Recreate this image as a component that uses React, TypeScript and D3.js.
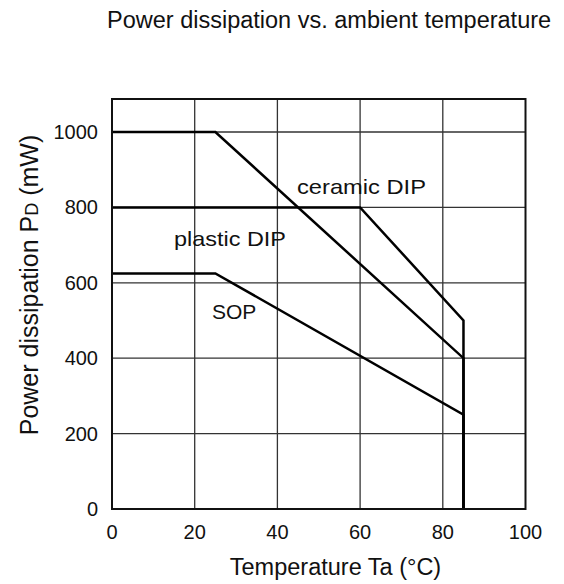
import * as d3 from "d3";

// axis ticks
const tempTicks = [0, 20, 40, 60, 80, 100];
const powerTicks = [0, 200, 400, 600, 800, 1000];

// derating curves (Ta in °C, PD in mW)
const plasticTemp = [0, 25, 85, 85];
const plasticPower = [1000, 1000, 400, 0];
const ceramicTemp = [0, 60, 85, 85];
const ceramicPower = [800, 800, 500, 0];
const sopTemp = [0, 25, 85, 85];
const sopPower = [625, 625, 250, 0];

const seriesNames = ["plastic DIP", "ceramic DIP", "SOP"];

const font = "'Liberation Sans', Arial, Helvetica, sans-serif";

export default function App() {
  const width = 564;
  const height = 584;
  const left = 112;
  const right = 525.5;
  const top = 99;
  const bottom = 509;

  const x = d3.scaleLinear().domain([0, 100]).range([left, right]);
  const y = d3.scaleLinear().domain([0, 1000]).range([bottom, 132]);

  const line = d3
    .line<[number, number]>()
    .x((d) => x(d[0]))
    .y((d) => y(d[1]));

  const series = [
    { name: seriesNames[0], pts: d3.zip(plasticTemp, plasticPower) as [number, number][] },
    { name: seriesNames[1], pts: d3.zip(ceramicTemp, ceramicPower) as [number, number][] },
    { name: seriesNames[2], pts: d3.zip(sopTemp, sopPower) as [number, number][] },
  ];

  // label placement (layout only)
  const labelPos: Record<string, { x: number; y: number; len?: number }> = {
    "ceramic DIP": { x: 297, y: 194, len: 129 },
    "plastic DIP": { x: 174, y: 246, len: 112 },
    SOP: { x: 212, y: 319 },
  };

  return (
    <div style={{ position: "absolute", left: 0, top: 0 }}>
      <svg width={width} height={height} style={{ display: "block", background: "#fff" }}>
        <text x={107} y={28} fontFamily={font} fontSize={23.5} fill="#111">
          Power dissipation vs. ambient temperature
        </text>

        {/* grid */}
        <g stroke="#333" strokeWidth={1.3}>
          {tempTicks.slice(1, -1).map((t) => (
            <line key={"gx" + t} x1={x(t)} x2={x(t)} y1={top} y2={bottom} />
          ))}
          {powerTicks.slice(1).map((p) => (
            <line key={"gy" + p} x1={left} x2={right} y1={y(p)} y2={y(p)} />
          ))}
        </g>

        {/* curves */}
        <g fill="none" stroke="#000" strokeWidth={2.5} strokeLinejoin="miter">
          {series.map((s) => (
            <path key={s.name} d={line(s.pts) || ""} />
          ))}
        </g>

        {/* frame */}
        <rect x={left} y={top} width={right - left} height={bottom - top} fill="none" stroke="#111" strokeWidth={2} />

        {/* y tick labels */}
        <g fontFamily={font} fontSize={20} fill="#111" textAnchor="end">
          {powerTicks.map((p) => (
            <text key={"yl" + p} x={98} y={y(p)} dy="0.35em">
              {p}
            </text>
          ))}
        </g>

        {/* x tick labels */}
        <g fontFamily={font} fontSize={20} fill="#111" textAnchor="middle">
          {tempTicks.map((t) => (
            <text key={"xl" + t} x={x(t)} y={539}>
              {t}
            </text>
          ))}
        </g>

        {/* series labels */}
        <g fontFamily={font} fontSize={21} fill="#111">
          {series.map((s) => {
            const p = labelPos[s.name];
            return (
              <text
                key={"lab" + s.name}
                x={p.x}
                y={p.y}
                textLength={p.len}
                lengthAdjust={p.len ? "spacingAndGlyphs" : undefined}
              >
                {s.name}
              </text>
            );
          })}
        </g>

        {/* axis titles */}
        <text x={335.5} y={575} fontFamily={font} fontSize={23.5} fill="#111" textAnchor="middle">
          Temperature Ta (°C)
        </text>
        <text
          transform={`translate(38,285) rotate(-90)`}
          fontFamily={font}
          fontSize={25}
          fill="#111"
          textAnchor="middle"
        >
          Power dissipation P
          <tspan fontSize={18}>D</tspan>
          {" (mW)"}
        </text>
      </svg>
    </div>
  );
}
